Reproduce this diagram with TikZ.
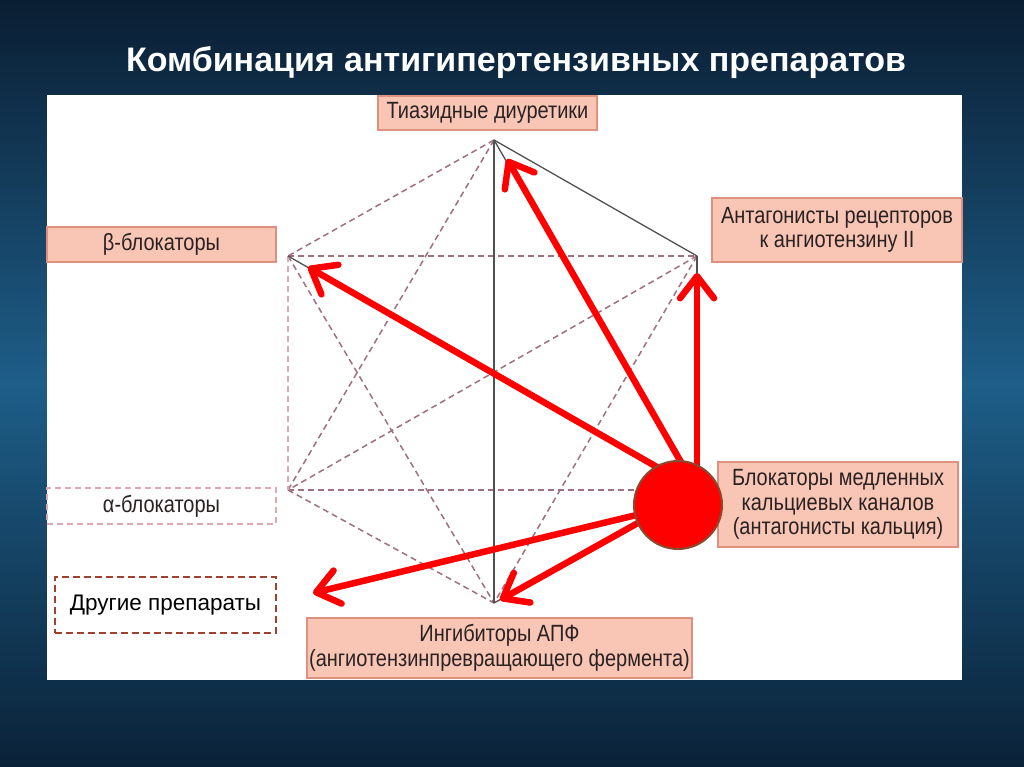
\documentclass[tikz,border=0pt]{standalone}
\usepackage{fontspec}
\setmainfont{Liberation Sans}
\newfontfamily\narrowfont[FakeStretch=0.85]{Liberation Sans}
\usetikzlibrary{arrows.meta,calc}
\definecolor{bgtop}{HTML}{0A1E33}
\definecolor{bgmid}{HTML}{1E5E88}
\definecolor{bgbot}{HTML}{0A2238}
\definecolor{boxfill}{HTML}{F9C6B6}
\definecolor{boxedge}{HTML}{E0907E}
\definecolor{dashc}{HTML}{A07080}
\definecolor{dashl}{HTML}{E0A8B0}
\definecolor{txt}{HTML}{2A2222}
\definecolor{arrred}{HTML}{FF0000}
\definecolor{circedge}{HTML}{8B4A30}
\definecolor{otheredge}{HTML}{A04030}
\definecolor{solidc}{HTML}{505050}
\begin{document}
\begin{tikzpicture}[x=1pt,y=-1pt,
  drugbox/.style={draw=boxedge, fill=boxfill, line width=1.5pt, inner sep=0pt,
    font=\narrowfont\fontsize{23.5}{24.5}\selectfont, text=txt, align=center},
  alphabox/.style={draw=dashl, fill=white, line width=1.5pt, dash pattern=on 6pt off 4pt,
    inner sep=0pt, font=\narrowfont\fontsize{23.5}{24.5}\selectfont, text=txt, align=center},
  otherbox/.style={draw=otheredge, fill=white, line width=2pt, dash pattern=on 7pt off 4pt,
    inner sep=0pt, font=\fontsize{22.5}{24}\selectfont, text=black, align=center},
  dashline/.style={draw=dashc, line width=1.5pt, dash pattern=on 6pt off 4pt},
  lightline/.style={draw=dashl, line width=1.5pt, dash pattern=on 6pt off 4pt},
  solidline/.style={draw=solidc, line width=1.3pt},
  redarrow/.style={draw=arrred, line width=6.5pt,
    -{Straight Barb[length=22pt,width=34pt,round]}},
  ccbcircle/.style={circle, fill=arrred, draw=circedge, line width=2pt,
    minimum size=88pt, inner sep=0pt}
]
\useasboundingbox (0,0) rectangle (1024,767);
\shade[top color=bgtop, bottom color=bgbot, middle color=bgmid] (0,0) rectangle (1024,767);
\fill[white] (47,95) rectangle (962,680);

\node[font=\bfseries\fontsize{34}{40}\selectfont, text=white] (title) at (516,63)
  {Комбинация антигипертензивных препаратов};

% hexagon vertices
\coordinate (vT) at (494,140);
\coordinate (vUL) at (288,256);
\coordinate (vUR) at (697,256);
\coordinate (vLL) at (288,490);
\coordinate (vLR) at (697,490);
\coordinate (vB) at (494,603);

% dashed connections
\draw[dashline] (vT) -- (vUL);
\draw[dashline] (vT) -- (vLL);
\draw[dashline] (vUL) -- (vUR);
\draw[dashline] (vUL) -- (vB);
\draw[dashline] (vUR) -- (vLL);
\draw[dashline] (vUR) -- (vB);
\draw[dashline] (vLL) -- (vLR);
\draw[dashline] (vLL) -- (vB);
\draw[lightline] (vUL) -- (vLL);
% solid connections
\draw[solidline] (vT) -- (vB);
\draw[solidline] (vT) -- (vUR);
\draw[solidline] (vT) -- (vLR);
\draw[solidline] (vUL) -- (vLR);
\draw[solidline] (vUR) -- (vLR);
\draw[solidline] (vB) -- (vLR);

% boxes
\node[drugbox, minimum width=219pt, minimum height=34pt] (thz) at (487.5,113) {Тиазидные диуретики};
\node[drugbox, minimum width=229pt, minimum height=35pt] (beta) at (161.5,244.5) {β-блокаторы};
\node[drugbox, minimum width=250pt, minimum height=64pt] (arb) at (837,230) {Антагонисты рецепторов\\к ангиотензину II};
\node[alphabox, minimum width=229pt, minimum height=36pt] (alpha) at (161.5,506) {α-блокаторы};
\node[otherbox, minimum width=221pt, minimum height=56pt] (other) at (165.5,605) {Другие препараты};
\node[drugbox, minimum width=240pt, minimum height=85pt] (ccb) at (838,504.5) {Блокаторы медленных\\кальциевых каналов\\(антагонисты кальция)};
\node[drugbox, minimum width=385pt, minimum height=60pt] (ace) at (499.5,648) {Ингибиторы АПФ\\(ангиотензинпревращающего фермента)};

% red arrows
\coordinate (cc) at (678,505);
\coordinate (tipT) at (507,159);
\coordinate (tipUL) at (308,267);
\coordinate (tipUR) at (697,273);
\coordinate (tipO) at (313,593);
\coordinate (tipB) at (500,600);
\draw[redarrow] (vLR) -- (tipT);
\draw[redarrow] (vLR) -- (tipUL);
\draw[redarrow] (vLR) -- (tipUR);
\draw[redarrow] (cc) -- (tipO);
\draw[redarrow] (vLR) -- (tipB);
\node[ccbcircle] (circ) at (cc) {};
\end{tikzpicture}
\end{document}
